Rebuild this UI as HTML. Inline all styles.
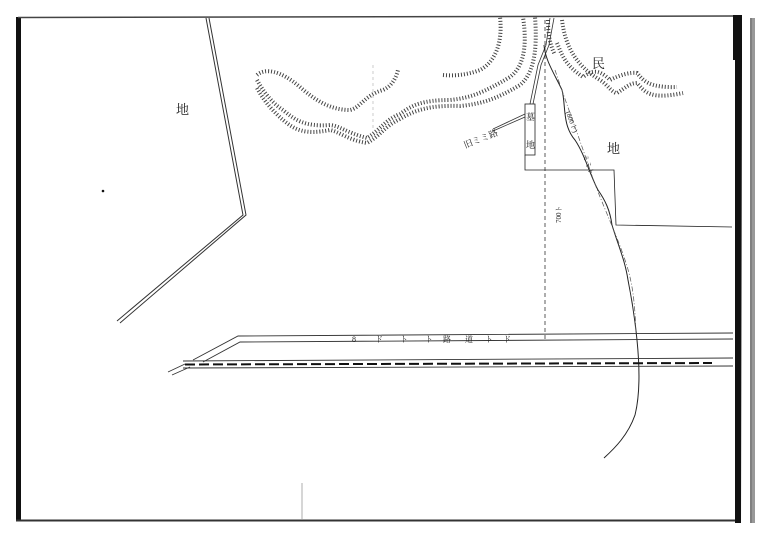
<!DOCTYPE html>
<html><head><meta charset="utf-8"><style>
html,body{margin:0;padding:0;background:#fff;width:768px;height:541px;overflow:hidden}
svg{display:block}
text{font-family:"Liberation Serif","Noto Serif CJK SC",serif;fill:#222}
</style></head><body>
<svg width="768" height="541" viewBox="0 0 768 541" xmlns="http://www.w3.org/2000/svg">
<!-- frame -->
<rect x="16" y="17" width="5" height="503" fill="#111"/>
<line x1="18" y1="17.5" x2="734" y2="16" stroke="#444" stroke-width="1.5"/>
<line x1="16" y1="520.5" x2="740" y2="520.5" stroke="#333" stroke-width="2"/>
<polygon points="733,15 742,15 742,60 741,523 735,523 735,60 733,60" fill="#111"/>
<rect x="750" y="18" width="5" height="505" fill="#999"/>
<line x1="751" y1="18" x2="751" y2="523" stroke="#666" stroke-width="1"/>
<!-- left polygon double line -->
<polyline points="206,18 243,215 117,321" fill="none" stroke="#333" stroke-width="1"/>
<polyline points="209,18 246,215 120,323" fill="none" stroke="#333" stroke-width="1"/>
<!-- contours -->
<g fill="none" stroke="#444" stroke-width="4" stroke-dasharray="1 2">
<path d="M257,75 C265,68 280,70 300,87 C315,100 330,110 350,110 C360,108 365,95 383,90 C392,86 396,78 398,70"/>
<path d="M257,80 C265,95 275,105 283,110 C295,120 305,127 330,125 C340,126 345,132 367,138 C380,130 385,120 400,114 C412,105 423,100 450,100 C470,98 483,93 510,77 C522,68 528,50 523,17"/>
<path d="M257,88 C265,103 275,113 283,120 C295,130 305,135 330,130 C340,132 348,140 367,143 C380,136 385,126 400,119 C415,110 430,105 460,106 C480,104 495,100 520,85 C532,75 538,55 535,17"/>
<path d="M443,75 C455,76 467,75 480,70 C495,62 503,43 500,17"/>
<path d="M557,43 C562,55 565,65 583,77 C590,72 597,67 610,80 C620,75 630,72 637,73 C643,80 648,88 677,87"/>
<path d="M562,20 C565,45 575,65 600,80 C608,85 612,93 617,93 C625,88 630,83 637,83 C645,92 650,100 683,93"/>
<path d="M548,20 C548,35 550,45 555,55"/>
</g>
<!-- dashed vertical -->
<line x1="545" y1="20" x2="545" y2="340" stroke="#333" stroke-width="0.8" stroke-dasharray="4 3"/>
<line x1="373" y1="65" x2="373" y2="130" stroke="#aaa" stroke-width="0.6" stroke-dasharray="3 3"/>
<!-- stream double -->
<path d="M550,18 L546,45 L538,65 L530,104" fill="none" stroke="#333" stroke-width="0.8"/>
<path d="M554,18 L549,45 L541,65 L533,104" fill="none" stroke="#333" stroke-width="0.8"/>
<line x1="525" y1="114" x2="493" y2="129" stroke="#333" stroke-width="0.8"/>
<line x1="525" y1="117" x2="493" y2="131" stroke="#333" stroke-width="0.8"/>
<text x="462" y="144" font-size="9" transform="rotate(-22 475 138)">旧ミミ路</text>
<!-- river -->
<path d="M544,45 C545,60 555,75 562,90 C566,105 562,125 575,140 C585,155 590,175 598,190 C605,200 610,210 612,225 C618,245 625,260 628,280 C632,300 635,320 637,340 C640,370 640,395 635,415 C628,435 615,448 604,458" fill="none" stroke="#222" stroke-width="1"/>
<path d="M555,70 C565,100 580,140 590,170 C600,200 615,230 625,260 C632,280 635,300 636,335" fill="none" stroke="#555" stroke-width="0.7" stroke-dasharray="5 2 1 2"/>
<!-- boundary -->
<rect x="525" y="104" width="10" height="51" fill="none" stroke="#222" stroke-width="0.8"/>
<polyline points="525,155 525,170 614,170 616,225 732,227" fill="none" stroke="#222" stroke-width="0.8"/>
<!-- road -->
<polyline points="193,360 238,336 733,333" fill="none" stroke="#333" stroke-width="0.9"/>
<polyline points="203,362 240,342 733,339" fill="none" stroke="#333" stroke-width="0.9"/>
<line x1="183" y1="361" x2="733" y2="358" stroke="#333" stroke-width="0.9"/>
<line x1="183" y1="368" x2="733" y2="366" stroke="#333" stroke-width="0.9"/>
<line x1="185" y1="364.5" x2="712" y2="363" stroke="#111" stroke-width="2" stroke-dasharray="10 4"/>
<line x1="168" y1="372" x2="185" y2="364" stroke="#333" stroke-width="0.8"/>
<line x1="172" y1="375" x2="190" y2="367" stroke="#333" stroke-width="0.8"/>
<line x1="302" y1="483" x2="302" y2="520" stroke="#999" stroke-width="0.8"/>
<g font-size="8">
<text x="352" y="342">8</text><text x="375" y="342">ド</text><text x="400" y="342">ト</text><text x="425" y="342">ト</text><text x="443" y="342">路</text><text x="465" y="342">道</text><text x="485" y="342">ト</text><text x="503" y="342">ド</text>
</g>
<!-- labels -->
<text x="176" y="114" font-size="13">地</text>
<circle cx="103" cy="191" r="1.3" fill="#111"/>
<text x="592" y="68" font-size="13">民</text>
<text x="607" y="153" font-size="13">地</text>
<text x="526" y="120" font-size="9">墓</text>
<text x="526" y="148" font-size="9">地</text>
<text x="548" y="230" font-size="7" transform="rotate(-90 551 220)">700ト</text>
<text x="566" y="118" font-size="7" transform="rotate(70 570 115)">(800ト)</text>
<text x="578" y="158" font-size="7" transform="rotate(70 582 160)">ミミト</text>
</svg>
</body></html>
